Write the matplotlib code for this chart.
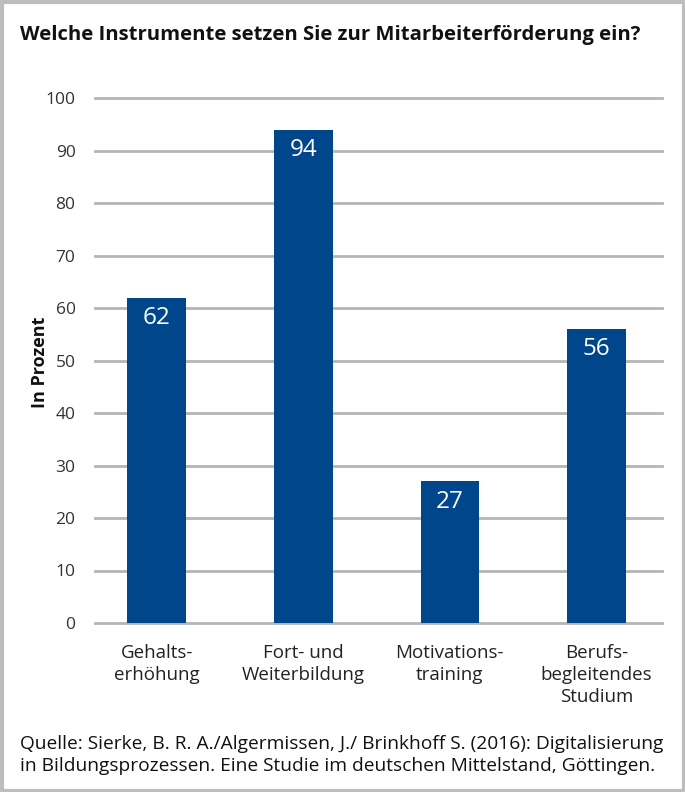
import matplotlib
matplotlib.use("Agg")
import matplotlib.pyplot as plt
from matplotlib.patches import Rectangle

categories = ["Gehalts-\nerhöhung", "Fort- und\nWeiterbildung", "Motivations-\ntraining", "Berufs-\nbegleitendes\nStudium"]
values = [62, 94, 27, 56]
yticks = [0, 10, 20, 30, 40, 50, 60, 70, 80, 90, 100]

title = "Welche Instrumente setzen Sie zur Mitarbeiterförderung ein?"
ylabel = "In Prozent"
source = ("Quelle: Sierke, B. R. A./Algermissen, J./ Brinkhoff S. (2016): Digitalisierung\n"
          "in Bildungsprozessen. Eine Studie im deutschen Mittelstand, Göttingen.")

plt.rcParams['font.family'] = ['Open Sans', 'DejaVu Sans']

W, H = 685, 792
fig = plt.figure(figsize=(W/100, H/100), dpi=100)
fig.patch.set_facecolor("white")

ax = fig.add_axes([95/W, 1-623/H, (662-95)/W, (623-98)/H])
x = list(range(len(categories)))
bars = ax.bar(x, values, width=0.40, color="#00468b", zorder=3)
for xi, v in zip(x, values):
    ax.text(xi, v - 1.6, str(v), ha="center", va="top", color="white", fontsize=17.5, zorder=4)

ax.set_xlim(-0.42, 3.447)
ax.set_ylim(0, 100)
ax.set_yticks(yticks)
ax.set_yticklabels([str(t) for t in yticks], fontsize=12.5, color="#333333")
ax.set_xticks(x)
ax.set_xticklabels(categories, fontsize=13.5, color="#222222", linespacing=1.3, va="top")
ax.tick_params(axis="y", length=0, pad=14)
ax.tick_params(axis="x", length=0, pad=15)
for s in ax.spines.values():
    s.set_visible(False)
ax.yaxis.grid(True, color="#b5b5b5", linewidth=2, zorder=0)
for gl in ax.get_ygridlines():
    gl.set_clip_on(False)
ax.set_axisbelow(True)
ax.set_ylabel(ylabel, fontsize=13, fontweight="bold", color="#111111")
ax.yaxis.set_label_coords((49-95)/(662-95), (623-362)/(623-98))

fig.text(20/W, 1-35/H, title, fontsize=14.6, fontweight="bold", color="#111111", va="center", ha="left")
fig.text(20/W, 1-755/H, source, fontsize=13.8, color="#111111", va="center", ha="left", linespacing=1.3)

fig.patches.append(Rectangle((1.5/W, 1.5/H), 1-3/W, 1-3/H, transform=fig.transFigure,
                             fill=False, edgecolor="#bdbdbd", linewidth=3))

fig.savefig("out.png", dpi=100)
